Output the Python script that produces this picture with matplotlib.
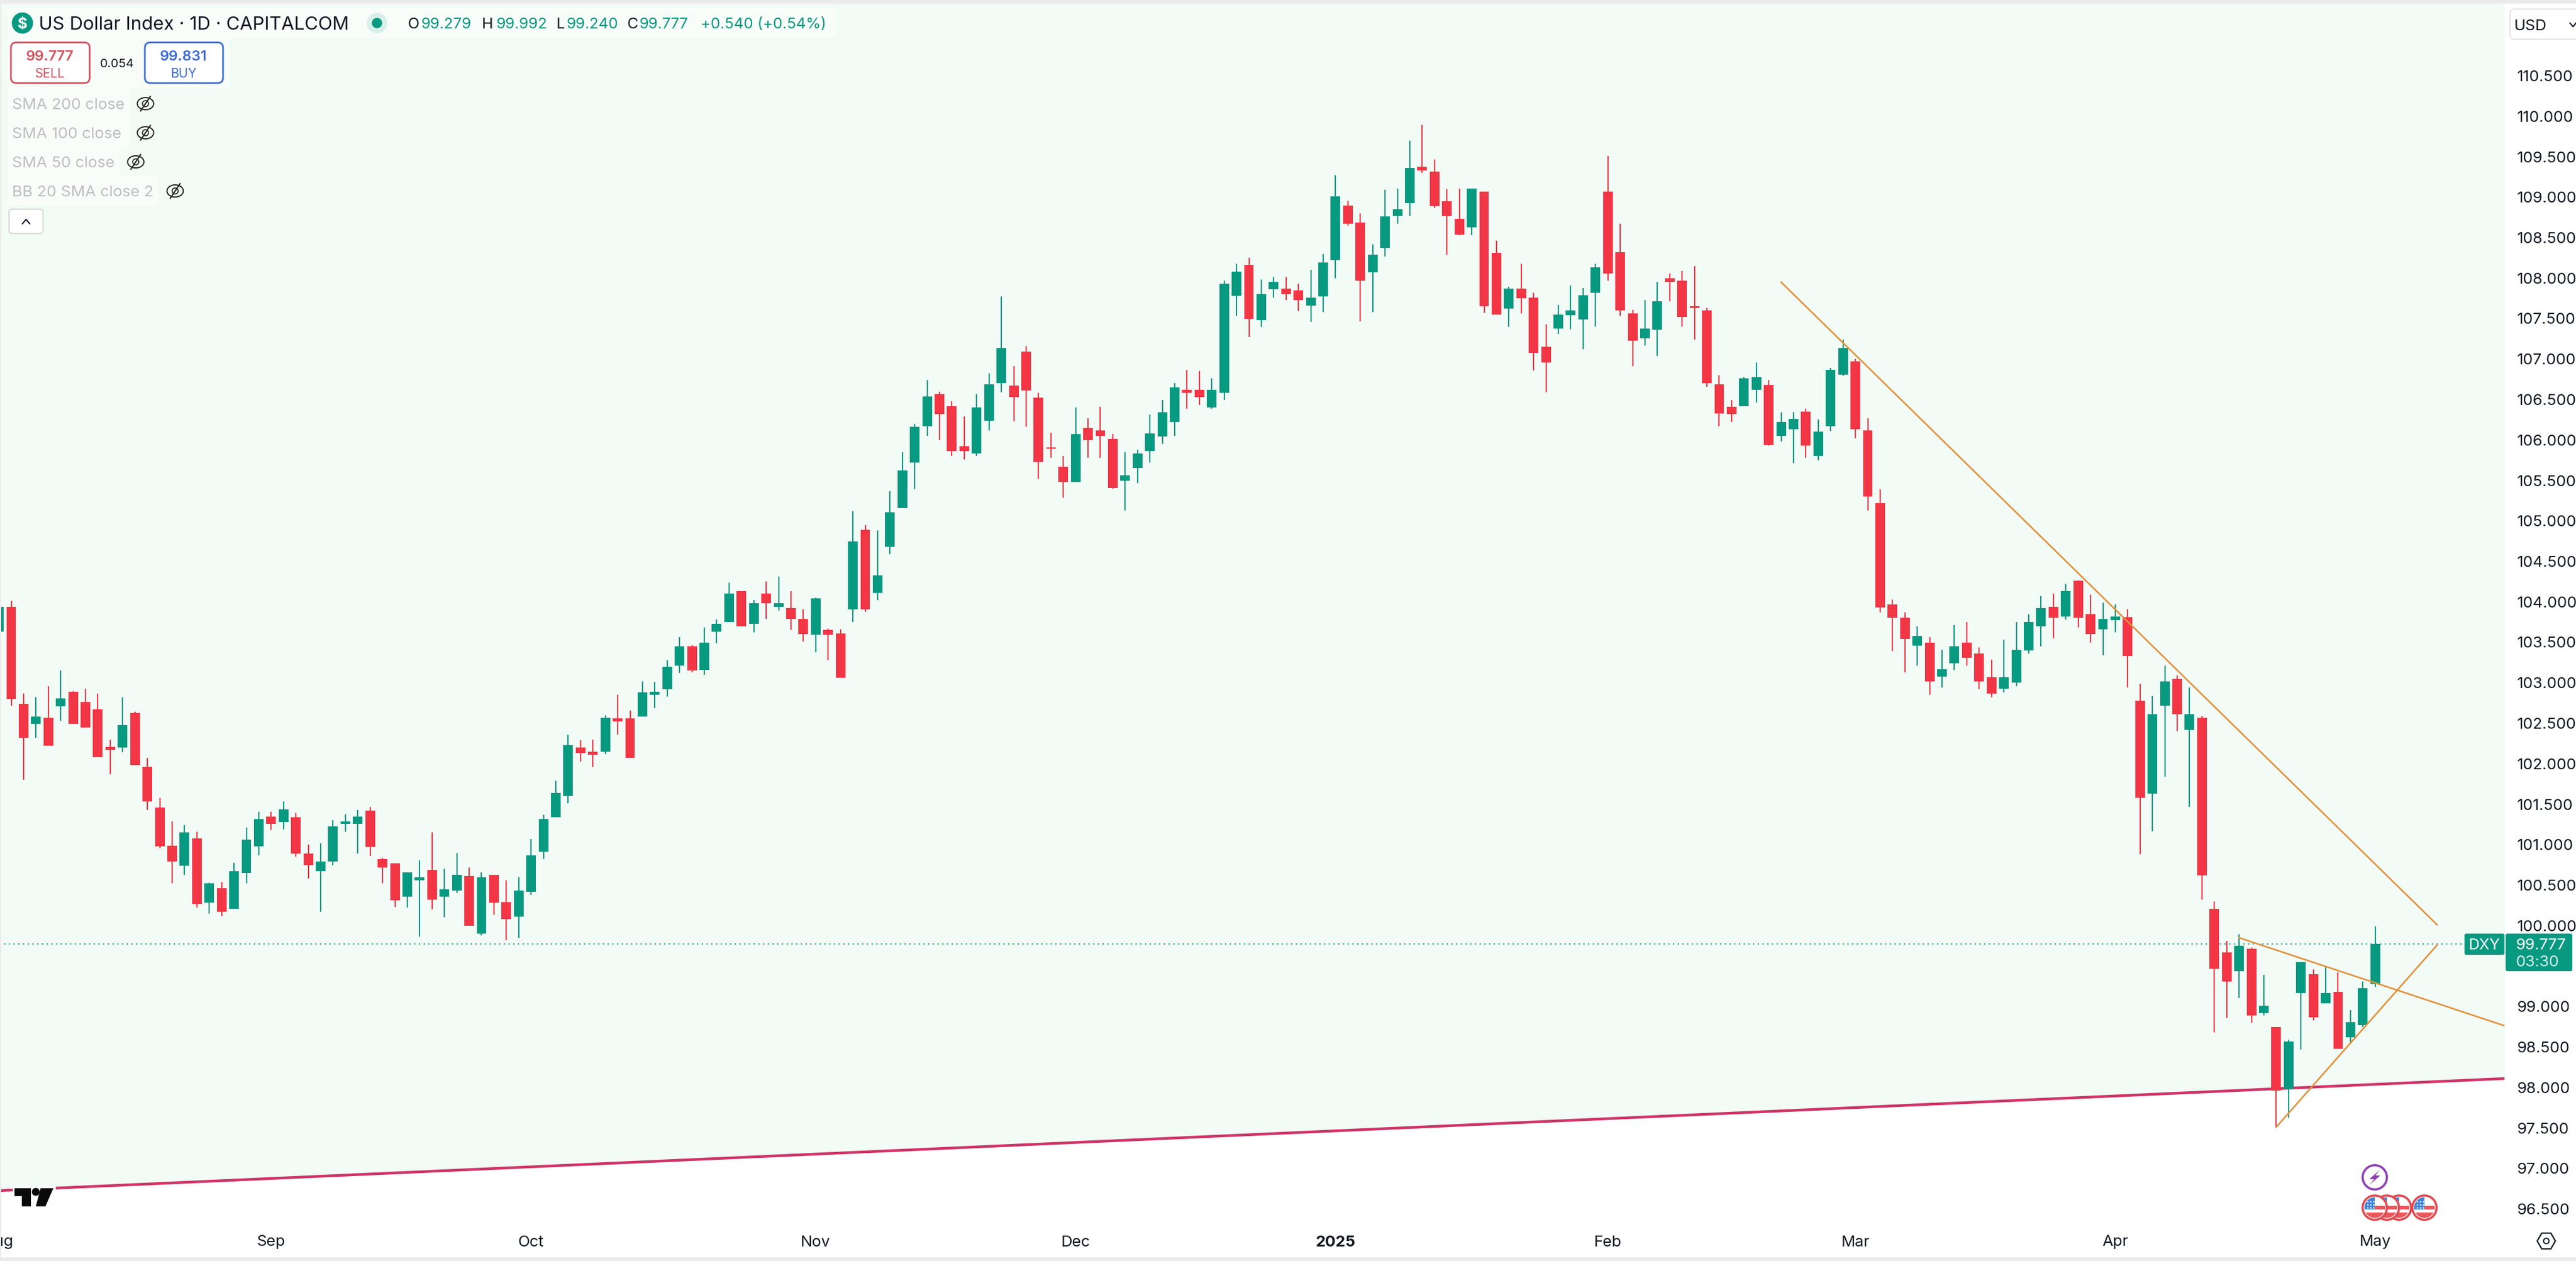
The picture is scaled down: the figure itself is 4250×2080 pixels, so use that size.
"""
US Dollar Index daily candles, TradingView style
"""
import numpy as np
import matplotlib
matplotlib.use("Agg")
import matplotlib.pyplot as plt
from matplotlib.patches import Rectangle, FancyBboxPatch, Circle, Ellipse, Polygon, RegularPolygon

plt.rcParams["font.family"] = ["Inter", "DejaVu Sans"]

# ── candles ──
opens = [
    103.63,103.94,102.74,102.49,102.57,102.71,102.89,102.76,102.67,102.21,
    102.20,102.63,101.96,101.46,100.99,100.74,101.08,100.28,100.46,100.21,
    100.65,100.98,101.35,101.28,101.34,100.89,100.67,100.79,101.26,101.26,
    101.42,100.82,100.77,100.36,100.56,100.69,100.36,100.43,100.61,99.90,
    100.63,100.29,100.11,100.42,100.91,101.34,101.60,102.20,102.15,102.15,
    102.56,102.56,102.58,102.85,102.92,103.21,103.45,103.16,103.63,103.75,
    104.13,103.73,104.10,103.94,103.92,103.79,103.59,103.65,103.61,103.91,
    104.89,104.11,104.68,105.16,105.72,106.17,106.57,106.42,105.92,105.83,
    106.24,106.70,106.67,107.09,106.52,105.90,105.67,105.48,106.15,106.12,
    106.01,105.50,105.65,105.86,106.04,106.22,106.62,106.62,106.40,106.58,
    107.78,108.16,107.48,107.86,107.87,107.85,107.66,107.77,108.22,108.90,
    108.69,108.07,108.37,108.77,108.93,109.38,109.32,108.95,108.73,108.63,
    109.07,108.31,107.62,107.87,107.76,107.15,107.38,107.54,107.49,107.82,
    109.07,108.32,107.56,107.26,107.36,108.00,107.97,107.64,107.60,106.69,
    106.41,106.42,106.62,106.68,106.05,106.13,106.35,105.80,106.17,106.81,
    106.97,106.12,105.22,103.97,103.80,103.46,103.50,103.08,103.24,103.50,
    103.36,103.07,102.93,103.00,103.40,103.70,103.94,103.82,104.26,103.85,
    103.66,103.77,103.81,102.78,101.63,102.72,103.05,102.42,102.57,100.21,
    99.67,99.44,99.71,98.92,98.75,97.98,99.17,99.40,99.04,99.18,
    98.62,98.77,99.279]
highs = [
    103.94,104.01,102.87,102.82,102.96,103.15,102.90,102.93,102.87,102.30,
    102.82,102.64,102.07,101.58,101.29,101.24,101.16,100.53,100.54,100.78,
    101.21,101.41,101.41,101.53,101.39,101.00,101.02,101.30,101.38,101.43,
    101.47,100.84,100.77,100.66,100.81,101.15,100.70,100.90,100.72,100.66,
    100.63,100.56,100.60,101.07,101.37,101.79,102.36,102.29,102.30,102.60,
    102.85,102.66,103.02,103.01,103.28,103.56,103.47,103.68,103.78,104.24,
    104.13,104.02,104.25,104.31,104.13,103.91,104.05,103.67,103.66,105.12,
    104.95,104.88,105.37,105.85,106.20,106.74,106.60,106.48,106.29,106.57,
    106.82,107.77,106.91,107.16,106.58,106.09,105.80,106.40,106.27,106.41,
    106.07,105.85,105.88,106.31,106.49,106.70,106.87,106.85,106.76,107.97,
    108.18,108.25,107.98,108.01,108.01,107.93,108.10,108.30,109.27,108.96,
    108.80,108.42,109.09,109.11,109.70,109.89,109.47,109.10,109.11,109.11,
    109.07,108.46,107.89,108.18,107.82,107.43,107.67,107.91,107.88,108.18,
    109.51,108.67,107.61,107.73,107.95,108.06,108.09,108.15,107.63,106.80,
    106.49,106.78,106.96,106.74,106.34,106.34,106.39,106.25,106.89,107.24,
    107.00,106.27,105.39,104.03,103.87,103.70,103.56,103.41,103.71,103.75,
    103.44,103.29,103.53,103.75,103.85,104.07,104.10,104.22,104.27,104.09,
    103.99,103.97,103.91,102.99,102.84,103.21,103.09,102.94,102.59,100.30,
    99.81,99.89,99.73,99.39,98.75,98.59,99.55,99.46,99.49,99.42,
    98.96,99.31,99.992]
lows = [
    103.63,102.72,101.80,102.32,102.22,102.53,102.49,102.45,102.08,101.87,
    102.14,101.98,101.43,100.96,100.52,100.63,100.22,100.15,100.12,100.21,
    100.52,100.87,101.18,101.19,100.85,100.58,100.17,100.75,101.16,100.89,
    100.86,100.52,100.23,100.22,99.86,100.20,100.10,100.40,100.00,99.88,
    100.13,99.82,99.85,100.38,100.82,101.34,101.51,102.03,101.96,102.12,
    102.36,102.07,102.58,102.69,102.83,103.12,103.13,103.10,103.49,103.75,
    103.70,103.62,103.79,103.89,103.65,103.51,103.38,103.28,103.06,103.75,
    103.88,104.02,104.59,105.16,105.39,106.05,106.00,105.80,105.76,105.80,
    106.12,106.59,106.23,106.16,105.52,105.78,105.29,105.48,105.78,105.78,
    105.40,105.13,105.47,105.72,105.95,106.05,106.39,106.43,106.39,106.49,
    107.53,107.27,107.40,107.76,107.73,107.59,107.46,107.58,108.00,108.65,
    107.47,107.58,108.27,108.67,108.77,109.30,108.87,108.29,108.53,108.53,
    107.57,107.55,107.40,107.56,106.86,106.59,107.31,107.37,107.12,107.40,
    107.97,107.53,106.91,107.17,107.04,107.71,107.40,107.24,106.66,106.17,
    106.22,106.42,106.46,105.93,105.98,105.71,105.78,105.75,106.11,106.79,
    106.02,105.13,103.87,103.39,103.13,103.21,102.85,102.94,103.16,103.21,
    102.92,102.82,102.88,102.96,103.36,103.45,103.55,103.78,103.68,103.50,
    103.34,103.62,102.94,100.88,101.17,101.84,102.40,101.47,100.32,98.68,
    98.86,99.11,98.80,98.89,97.51,97.62,98.47,98.83,99.04,98.48,
    98.54,98.75,99.240]
closes = [
    103.94,102.80,102.32,102.58,102.22,102.81,102.49,102.45,102.08,102.17,
    102.48,101.98,101.53,100.98,100.79,101.15,100.27,100.52,100.17,100.67,
    101.06,101.32,101.26,101.44,100.89,100.75,100.79,101.23,101.29,101.35,
    100.97,100.72,100.31,100.66,100.60,100.32,100.45,100.63,100.00,100.60,
    100.28,100.08,100.43,100.87,101.32,101.64,102.23,102.13,102.11,102.57,
    102.52,102.07,102.88,102.89,103.20,103.45,103.15,103.50,103.73,104.10,
    103.70,103.98,103.98,103.98,103.79,103.60,104.04,103.59,103.06,104.75,
    103.91,104.33,105.11,105.62,106.16,106.54,106.32,105.86,105.86,106.40,
    106.69,107.14,106.53,106.61,105.73,105.89,105.48,106.07,106.00,106.05,
    105.41,105.56,105.83,106.08,106.34,106.65,106.58,106.53,106.62,107.93,
    108.08,107.50,107.80,107.95,107.80,107.73,107.76,108.19,109.01,108.67,
    107.97,108.29,108.76,108.85,109.36,109.33,108.89,108.77,108.54,109.11,
    107.65,107.55,107.87,107.75,107.08,106.96,107.55,107.60,107.79,108.13,
    108.06,107.60,107.23,107.38,107.71,107.95,107.52,107.63,106.70,106.33,
    106.32,106.76,106.78,105.94,106.22,106.26,105.93,106.10,106.87,107.14,
    106.13,105.30,103.93,103.80,103.54,103.58,103.02,103.17,103.45,103.31,
    103.02,102.87,103.07,103.41,103.75,103.92,103.80,104.13,103.80,103.60,
    103.79,103.82,103.33,101.58,102.61,103.02,102.61,102.61,100.62,99.47,
    99.31,99.75,98.89,99.01,97.96,98.57,99.55,98.87,99.17,98.48,
    98.81,99.23,99.777]

# ── drawn trend lines, (bar index, price) ──
support_x = [0, 203]
support_y = [96.725, 98.114]
down_x = [144, 197]
down_y = [107.95, 100.01]
wedge_top_x = [181, 202.5]
wedge_top_y = [99.85, 98.76]
wedge_low_x = [184, 197]
wedge_low_y = [97.51, 99.76]

month_pos = [0, 22, 43, 66, 87, 108, 130, 150, 171, 192]
month_labels = ["Aug", "Sep", "Oct", "Nov", "Dec", "2025", "Feb", "Mar", "Apr", "May"]
price_ticks = np.arange(96.5, 110.6, 0.5)
last_price = 99.777

UP = "#089981"
DOWN = "#F23645"
PALE = "#F2FBF5"
ORANGE = "#E2933F"
PINK = "#CF3368"
INK = "#131722"
GHOST = "#BDBFC2"

W, H = 4250, 2080
BAR_PX = 20.42     # one bar on screen
BAR0_PX = -1.9     # where bar 0 sits
PRICE_PX = 133.5   # one point of price on screen
PLOT_L, PLOT_R, PLOT_T, PLOT_B = -6, 4132, 6, 2025


def px_to_bar(x):
    return (x - BAR0_PX) / BAR_PX


def px_to_price(y):
    return 110.5 - (y - 125) / PRICE_PX


fig = plt.figure(figsize=(W / 100, H / 100), dpi=100, facecolor="white")
ax = fig.add_axes([PLOT_L / W, (H - PLOT_B) / H, (PLOT_R - PLOT_L) / W, (PLOT_B - PLOT_T) / H])
ax.set_xlim(px_to_bar(PLOT_L), px_to_bar(PLOT_R))
ax.set_ylim(px_to_price(PLOT_B), px_to_price(PLOT_T))
for s in ax.spines.values():
    s.set_visible(False)
ax.set_facecolor("white")

# green zone above the support line
ax.fill_between(support_x, support_y, px_to_price(PLOT_T), color=PALE, lw=0, zorder=0)
ax.plot(support_x, support_y, color=PINK, lw=3.2, zorder=1, solid_capstyle="butt")

ax.axhline(last_price, color=UP, lw=1.4, ls=(0, (1, 3)), zorder=1.5)

# candles
x = np.arange(len(opens))
o, h, l, c = map(np.array, (opens, highs, lows, closes))
up = c >= o
colors = np.where(up, UP, DOWN)
ax.vlines(x, l, h, colors=colors, lw=1.5, zorder=2)
ax.bar(x, np.maximum(np.abs(c - o), 0.02), bottom=np.minimum(o, c), width=0.78,
       color=colors, lw=0, zorder=3)

ax.plot(down_x, down_y, color=ORANGE, lw=1.9, zorder=4)
ax.plot(wedge_top_x, wedge_top_y, color=ORANGE, lw=1.9, zorder=4)
ax.plot(wedge_low_x, wedge_low_y, color=ORANGE, lw=1.9, zorder=4)

ax.yaxis.tick_right()
ax.set_yticks(price_ticks)
# the 99.500 label sits behind the last price tag
ax.set_yticklabels(["" if v == 99.5 else f"{v:.3f}" for v in price_ticks], fontsize=18.5, color=INK)
ax.tick_params(axis="y", length=0, pad=15)
ax.set_xticks(month_pos)
ax.set_xticklabels(month_labels, fontsize=18.5, color=INK)
ax.tick_params(axis="x", length=0, pad=9)
ax.get_xticklabels()[5].set_fontweight("bold")

# ── screen furniture, in pixels ──
ui = fig.add_axes([0, 0, 1, 1], facecolor="none")
ui.set_xlim(0, W)
ui.set_ylim(H, 0)
ui.axis("off")


def box(x0, y0, x1, y1, fc="white", ec="none", lw=0, r=0, z=5, alpha=None):
    if r:
        p = FancyBboxPatch((x0 + r, y0 + r), x1 - x0 - 2 * r, y1 - y0 - 2 * r,
                           boxstyle=f"round,pad={r},rounding_size={r}",
                           fc=fc, ec=ec, lw=lw, zorder=z, alpha=alpha)
    else:
        p = Rectangle((x0, y0), x1 - x0, y1 - y0, fc=fc, ec=ec, lw=lw, zorder=z, alpha=alpha)
    ui.add_patch(p)
    return p


def label(x0, y0, s, size, color=INK, ha="left", weight="normal", z=7):
    ui.text(x0, y0, s, fontsize=size, color=color, ha=ha, va="center_baseline",
            fontweight=weight, zorder=z)


def eye_off(cx, cy):
    ui.add_patch(Ellipse((cx, cy), 27, 20, fc="none", ec="#222222", lw=1.4, zorder=7))
    ui.add_patch(Circle((cx, cy), 5, fc="none", ec="#222222", lw=1.2, zorder=7))
    ui.plot([cx - 8, cx + 8], [cy + 12, cy - 12], color="#222222", lw=1.5, zorder=7)


def flag(cx, cy, z):
    rim = Circle((cx, cy), 20, fc="white", ec="#E04A50", lw=2.6, zorder=z)
    ui.add_patch(rim)
    clip = Circle((cx, cy), 17, transform=ui.transData)
    for y0, y1 in [(-3, 3), (8, 17)]:
        st = ui.add_patch(Rectangle((cx - 17, cy + y0), 34, y1 - y0, fc="#E8575A", lw=0, zorder=z))
        st.set_clip_path(clip)
    bl = ui.add_patch(Rectangle((cx - 17, cy - 17), 17, 20, fc="#3F83D8", lw=0, zorder=z))
    bl.set_clip_path(clip)
    ui.scatter(np.repeat([cx - 12, cx - 7, cx - 2], 3), np.tile([cy - 10, cy - 5, cy], 3),
               s=3, color="white", lw=0, zorder=z)


# window edges
box(0, 0, W, 6, fc="#EBEBEB", z=8)
box(0, 2074, W, H, fc="#EBEBEB", z=8)
box(0, 0, 2, H, fc="#EBEBEB", z=8)

# header strip
box(12, 13, 1380, 62, fc="white", alpha=0.55)
box(12, 62, 378, 146, fc="white", alpha=0.55)
ui.add_patch(Circle((37, 38), 17.5, fc=UP, lw=0, zorder=6))
label(37, 38, "$", 18, color="white", ha="center", weight="bold")
label(64, 38, "US Dollar Index · 1D · CAPITALCOM", 22)
ui.add_patch(Circle((622, 38), 17, fc=UP, alpha=0.13, lw=0, zorder=6))
ui.add_patch(Circle((622, 38), 8.5, fc=UP, lw=0, zorder=7))
for xl, ch, xv, val in [(673, "O", 695, "99.279"), (795, "H", 818, "99.992"),
                        (918, "L", 934, "99.240"), (1035, "C", 1055, "99.777")]:
    label(xl, 38, ch, 18)
    label(xv, 38, val, 18, color=UP)
label(1156, 38, "+0.540 (+0.54%)", 18, color=UP)

# sell / buy
box(18, 70, 148, 137, fc="white", ec="#D0535F", lw=2, r=9)
label(82, 92, "99.777", 17, color="#D0535F", ha="center", weight="semibold")
label(82, 120, "SELL", 15, color="#D0535F", ha="center")
label(193, 104, "0.054", 14.5, ha="center")
box(239, 70, 368, 137, fc="white", ec="#3D6BD0", lw=2, r=9)
label(303, 92, "99.831", 17, color="#3D6BD0", ha="center", weight="semibold")
label(303, 120, "BUY", 15, color="#3D6BD0", ha="center")

# hidden indicators
for txt, ty, ex, xr in [("SMA 200 close", 171, 240, 213), ("SMA 100 close", 219, 240, 213),
                        ("SMA 50 close", 267, 224, 196), ("BB 20 SMA close 2", 315, 289, 261)]:
    box(12, ty - 24, xr, ty + 24, fc="white", alpha=0.5)
    label(20, ty, txt, 18.6, color=GHOST)
    eye_off(ex, ty)

box(15, 345, 71, 385, fc="white", ec="#D8D8D8", lw=1.5, r=5)
ui.plot([37, 43, 49], [369, 362, 369], color=INK, lw=1.5, zorder=7)

# currency button
box(4141, 15, 4275, 65, fc="white", ec="#E4E4E4", lw=1.5, r=8)
label(4148, 41, "USD", 18.5)
ui.plot([4240, 4245, 4250], [38, 44, 38], color=INK, lw=1.5, zorder=7)

# last price tags
box(4066, 1540, 4132, 1575, fc=UP, r=3)
label(4099, 1557, "DXY", 18, color="white", ha="center")
box(4134, 1540, 4244, 1602, fc=UP, r=3)
label(4150, 1557, "99.777", 18.5, color="white")
label(4150, 1585, "03:30", 18.5, color="#D5F0EA")

# TradingView mark
box(21, 1957, 92, 1992, fc="white")
ui.add_patch(Polygon([(24, 1960), (51, 1960), (51, 1990), (36, 1990), (36, 1973), (24, 1973)],
                     fc="#0A0A0A", lw=0, zorder=7))
ui.add_patch(Ellipse((59, 1966), 13, 13, fc="#0A0A0A", lw=0, zorder=7))
ui.add_patch(Polygon([(67, 1960), (88, 1960), (75, 1990), (59, 1990)], fc="#0A0A0A", lw=0, zorder=7))

# event markers
ui.add_patch(Circle((3918, 1942), 20, fc="white", ec="#8E3FB5", lw=2.6, zorder=6))
ui.add_patch(Polygon([(3926, 1930), (3909, 1945), (3917, 1945), (3910, 1954), (3927, 1939), (3919, 1939)],
                     fc="#8E3FB5", lw=0, zorder=7))
flag(4000, 1992, 6.0)
flag(3958, 1992, 6.1)
flag(3938, 1992, 6.2)
flag(3918, 1992, 6.3)

# settings hexagon
ui.add_patch(RegularPolygon((4201, 2047), 6, radius=15, orientation=np.pi / 6,
                            fc="none", ec=INK, lw=1.6, zorder=7))
ui.add_patch(Circle((4201, 2047), 4.5, fc="none", ec=INK, lw=1.4, zorder=7))

fig.savefig("out.png", dpi=100)
